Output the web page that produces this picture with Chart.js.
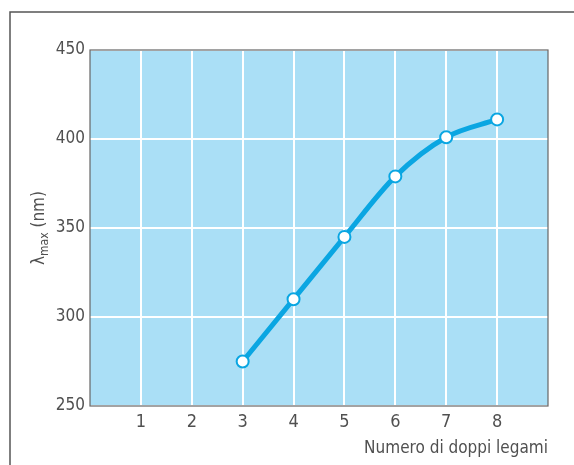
<!DOCTYPE html>
<html>
<head>
<meta charset="utf-8">
<script src="https://cdn.jsdelivr.net/npm/chart.js@4.4.1/dist/chart.umd.min.js"></script>
<style>
  html, body { margin: 0; padding: 0; background: #ffffff; }
  #wrap { position: relative; width: 574px; height: 465px; }
</style>
</head>
<body>
<div id="wrap"><canvas id="myChart" width="574" height="465"></canvas></div>
<script>
// dati
const doppiLegami = [3, 4, 5, 6, 7, 8];
const lambdaMax = [275, 310, 345, 379, 401, 411];
const xTicks = [1, 2, 3, 4, 5, 6, 7, 8];
const yTicks = [250, 300, 350, 400, 450];

const font = "'DejaVu Sans Condensed', 'Liberation Sans Narrow', sans-serif";
const grigio = '#505050';

// cornice esterna, sfondo azzurro e titolo asse y (con pedice)
const extras = {
    id: 'extras',
    beforeDraw(chart) {
        const {ctx, chartArea} = chart;
        ctx.save();
        ctx.strokeStyle = '#555';
        ctx.lineWidth = 1.5;
        ctx.beginPath();
        ctx.moveTo(10, 465);
        ctx.lineTo(10, 12);
        ctx.lineTo(574, 12);
        ctx.stroke();
        ctx.fillStyle = '#aadff6';
        ctx.fillRect(chartArea.left, chartArea.top, chartArea.right - chartArea.left, chartArea.bottom - chartArea.top);
        ctx.restore();
    },
    afterDraw(chart) {
        const {ctx, chartArea} = chart;
        ctx.save();
        // bordo area grafico
        ctx.strokeStyle = '#666';
        ctx.lineWidth = 1.2;
        ctx.strokeRect(chartArea.left, chartArea.top, chartArea.right - chartArea.left, chartArea.bottom - chartArea.top);
        // titolo asse y
        ctx.translate(37, 228);
        ctx.rotate(-Math.PI / 2);
        ctx.fillStyle = grigio;
        ctx.textBaseline = 'alphabetic';
        const big = "17px " + font;
        const small = "12px " + font;
        ctx.font = big;
        const w1 = ctx.measureText('λ').width;
        const w3 = ctx.measureText(' (nm)').width;
        ctx.font = small;
        const w2 = ctx.measureText('max').width;
        let x = -(w1 + w2 + w3) / 2;
        const y = 7;
        ctx.font = big;
        ctx.fillText('λ', x, y);
        x += w1;
        ctx.font = small;
        ctx.fillText('max', x, y + 4);
        x += w2;
        ctx.font = big;
        ctx.fillText(' (nm)', x, y);
        ctx.restore();
    }
};

const ctx = document.getElementById('myChart');

new Chart(ctx, {
    type: 'line',
    data: {
        datasets: [{
            data: doppiLegami.map((n, i) => ({x: n, y: lambdaMax[i]})),
            borderColor: '#0aa6e2',
            borderWidth: 5,
            cubicInterpolationMode: 'monotone',
            pointRadius: 6,
            pointBackgroundColor: '#ffffff',
            pointBorderColor: '#0aa6e2',
            pointBorderWidth: 2,
            fill: false
        }]
    },
    options: {
        responsive: false,
        animation: false,
        layout: { padding: { left: 0, top: 50, right: 26, bottom: 0 } },
        plugins: {
            legend: { display: false },
            tooltip: { enabled: false }
        },
        scales: {
            x: {
                type: 'linear',
                min: 0,
                max: 9,
                afterBuildTicks: (scale) => { scale.ticks = xTicks.map(v => ({value: v})); },
                afterFit: (scale) => { scale.height = 59; },
                grid: { color: '#ffffff', lineWidth: 2, drawTicks: false },
                border: { display: false },
                ticks: { color: grigio, font: { family: font, size: 18 }, padding: 6 },
                title: {
                    display: true,
                    text: 'Numero di doppi legami',
                    align: 'end',
                    color: grigio,
                    font: { family: font, size: 17 },
                    padding: { top: 0, bottom: 6 }
                }
            },
            y: {
                min: 250,
                max: 450,
                afterBuildTicks: (scale) => { scale.ticks = yTicks.map(v => ({value: v})); },
                afterFit: (scale) => { scale.width = 90; },
                grid: { color: '#ffffff', lineWidth: 2, drawTicks: false },
                border: { display: false },
                ticks: { color: grigio, font: { family: font, size: 17 }, padding: 5 }
            }
        }
    },
    plugins: [extras]
});
</script>
</body>
</html>
